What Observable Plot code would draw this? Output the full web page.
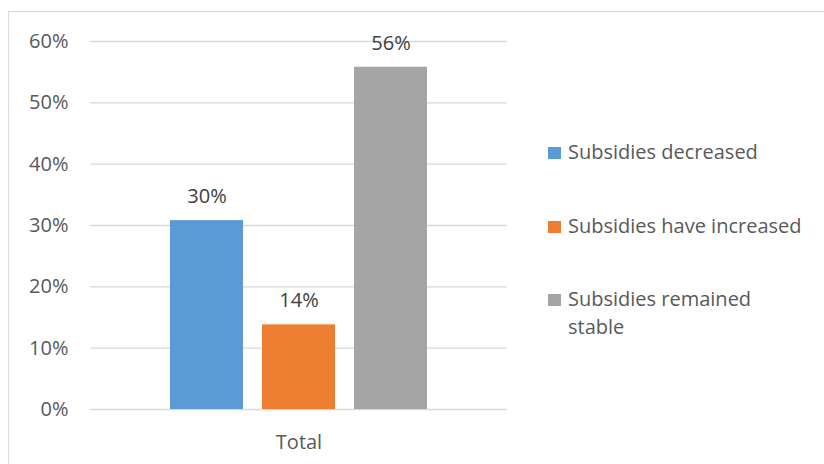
<!DOCTYPE html>
<html>
<head>
<meta charset="utf-8">
<script src="https://cdn.jsdelivr.net/npm/d3@7"></script>
<script src="https://cdn.jsdelivr.net/npm/@observablehq/plot@0.6"></script>
<style>
  body { margin: 0; background: #fff; }
  #wrap { position: relative; width: 824px; height: 464px; overflow: hidden; font-family: "Open Sans", sans-serif; }
  #frame { position: absolute; left: 8px; top: 11px; width: 900px; height: 600px; border: 1px solid #d9d9d9; box-sizing: border-box; }
  #chart { position: absolute; left: 0; top: 0; }
  #legend { position: absolute; left: 548px; top: 138px; color: #595959; font-size: 20px; }
  .item { display: flex; align-items: flex-start; height: 73.5px; }
  .sw { width: 13px; height: 12px; margin-top: 9px; margin-right: 7px; flex: none; }
  .lab { white-space: pre-line; line-height: 28px; }
</style>
</head>
<body>
<div id="wrap">
  <div id="frame"></div>
  <div id="chart"></div>
  <div id="legend"></div>
</div>
<script>
const categories = ["Total"];
const series = ["Subsidies decreased", "Subsidies have increased", "Subsidies remained stable"];
const legendLabels = ["Subsidies decreased", "Subsidies have increased", "Subsidies remained\nstable"];
const values = [0.308, 0.138, 0.558];
const valueLabels = ["30%", "14%", "56%"];
const colors = ["#5B9BD5", "#ED7D31", "#A5A5A5"];
const yTicks = [0, 0.1, 0.2, 0.3, 0.4, 0.5, 0.6];

const data = series.map((s, i) => ({category: categories[0], series: s, value: values[i], label: valueLabels[i]}));

const chart = Plot.plot({
  width: 824,
  height: 464,
  marginLeft: 90,
  marginRight: 317,
  marginTop: 41,
  marginBottom: 55,
  style: {fontFamily: "'Open Sans', sans-serif", fontSize: "20px", color: "#595959", background: "transparent"},
  fx: {domain: categories, label: null, axis: "bottom", tickSize: 0, tickPadding: 25, padding: 0},
  x: {domain: series, axis: null, paddingInner: 0.21, paddingOuter: 0.87},
  y: {domain: [0, 0.6], ticks: yTicks, tickFormat: d3.format(".0%"), tickSize: 0, tickPadding: 22, label: null},
  color: {domain: series, range: colors},
  marks: [
    Plot.ruleY(yTicks, {stroke: "#d9d9d9", strokeWidth: 1.3}),
    Plot.barY(data, {fx: "category", x: "series", y: "value", fill: "series"}),
    Plot.text(data, {fx: "category", x: "series", y: "value", text: "label", dy: -24, lineAnchor: "middle", fill: "#404040", fontSize: 20})
  ]
});
document.getElementById("chart").appendChild(chart);

const legend = document.getElementById("legend");
series.forEach((s, i) => {
  const item = document.createElement("div");
  item.className = "item";
  const sw = document.createElement("div");
  sw.className = "sw";
  sw.style.background = colors[i];
  const lab = document.createElement("div");
  lab.className = "lab";
  lab.textContent = legendLabels[i];
  item.appendChild(sw);
  item.appendChild(lab);
  legend.appendChild(item);
});
</script>
</body>
</html>
